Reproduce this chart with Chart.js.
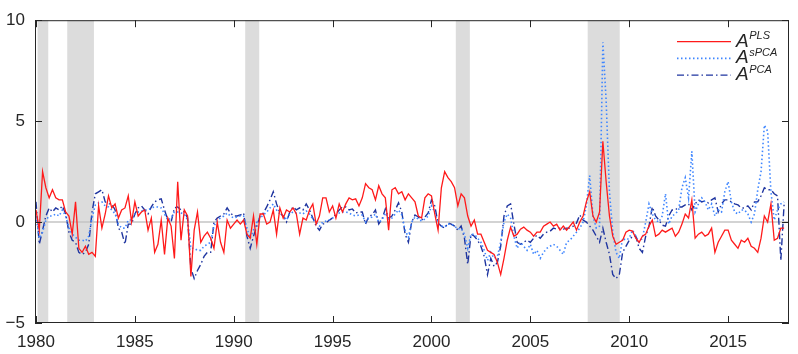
<!DOCTYPE html>
<html lang="en">
<head>
<meta charset="UTF-8">
<title>Aggregate factor comparison</title>
<script src="https://cdn.jsdelivr.net/npm/chart.js"></script>
<style>
  html, body { margin: 0; padding: 0; background: #fff; }
  #wrap { width: 798px; height: 354px; }
</style>
</head>
<body>
<div id="wrap"><canvas id="chart" width="798" height="354"></canvas></div>
<script>
  // one observation every two months, starting Jan 1980
  const startYear = 1980;
  const stepYears = 1 / 6;

  const plsValues = [
    0.6, -0.4, 2.5, 1.7, 1.2, 1.6, 1.2, 1.1, 1.1, 0.5, 0.3, -0.6,
    1.0, -1.3, -1.5, -1.2, -1.6, -1.5, -1.7, 0.8, -0.3, 0.4, 1.3, 0.7,
    0.9, 0.2, 0.6, 0.7, 1.3, 0.0, 1.0, 0.3, 0.5, 0.6, -0.4, 0.2,
    -1.5, -1.1, 0.1, -1.6, 0.2, -0.2, -1.8, 2.0, -0.9, 0.6, 0.3, -2.7,
    -0.4, 0.5, -1.0, -0.7, -0.5, -0.8, -1.3, 0.0, -1.0, -1.5, 0.1, -0.3,
    -0.1, 0.1, -0.1, 0.1, -0.6, -0.8, 0.3, -1.1, 0.4, 0.4, -0.1, 0.0,
    0.6, -0.6, 0.7, 0.2, 0.6, 0.5, 0.7, 0.4, -0.6, 0.2, 0.1, 0.6,
    0.9, -0.1, 0.3, 1.2, 1.2, 0.5, 0.8, 0.2, 0.9, 0.5, 0.9, 1.2,
    1.1, 1.15, 0.8, 1.2, 1.9, 1.7, 1.6, 1.1, 1.8, 1.4, 1.2, -0.4,
    1.6, 1.7, 1.4, 1.5, 1.1, 1.4, 1.2, 1.0, 0.3, 0.2, 1.2, 1.4,
    1.3, 0.4, -0.4, 1.7, 2.5, 2.2, 2.0, 1.7, 0.8, 1.4, 1.2, 0.3,
    -0.2, 0.1, -0.6, -0.6, -1.0, -1.4, -1.5, -1.6, -2.0, -2.6, -1.8, -0.9,
    -0.25, -0.7, -0.6, -0.35, -0.25, -0.4, -0.5, -0.7, -0.5, -0.5, -0.2, -0.1,
    0.0, -0.2, -0.1, -0.4, -0.2, -0.4, -0.2, 0.0, -0.4, 0.0, 0.3, 1.0,
    1.5, 0.3, 0.0, 0.5, 4.0, 2.0, 0.3, -0.7, -1.1, -1.0, -0.9, -0.5,
    -0.4, -0.45, -0.8, -1.0, -0.7, -0.6, -0.2, 0.1, -0.7, -0.6, -0.4, -0.5,
    -0.4, -0.3, -0.7, -0.5, -0.1, 0.4, 0.2, 1.1, -0.8, -0.6, -0.5, -0.7,
    -0.6, -0.3, -1.5, -1.0, -0.7, -0.4, -0.4, -0.9, -1.1, -1.3, -0.9, -1.0,
    -0.8, -1.2, -1.3, -1.5, -0.8, 0.3, 0.0, 0.9, -0.9, -0.8, -0.3, -0.3
  ];

  const spcaValues = [
    0.3, -0.8, -0.5, 0.1, 0.3, 0.3, 0.4, 0.3, 0.6, 0.3, -0.3, -0.6,
    -0.75, -0.9, -0.9, -0.95, -0.7, 0.2, 0.85, 0.95, 1.0, 0.8, 0.75, 0.6,
    0.4, -0.1, -0.3, -0.3, 0.1, 0.1, 0.4, 0.5, 0.55, 0.6, 0.6, 0.7,
    0.75, 0.75, 0.7, 0.4, 0.1, 0.2, 0.5, 0.5, 0.45, 0.4, 0.1, -1.3,
    -1.3, -1.4, -1.4, -1.2, -1.1, -1.0, -0.2, 0.1, 0.2, 0.3, 0.45, 0.3,
    0.2, 0.25, 0.3, 0.3, -0.3, -0.8, -0.4, 0.0, 0.2, 0.35, 0.5, 0.7,
    0.9, 0.6, 0.4, 0.3, 0.1, 0.4, 0.5, 0.45, 0.45, 0.4, 0.55, 0.4,
    0.15, 0.0, -0.2, 0.0, 0.05, 0.1, 0.2, 0.3, 0.45, 0.5, 0.5, 0.45,
    0.35, 0.3, 0.35, 0.35, 0.0, 0.2, 0.25, 0.4, 0.0, 0.1, 0.45, 0.15,
    0.2, 0.4, 0.6, 0.35, -0.4, -0.75, 0.0, 0.25, 0.15, 0.05, 0.15, 0.3,
    0.8, 0.5, -0.1, -0.2, -0.25, -0.1, -0.1, -0.2, -0.35, -0.3, -0.6, -1.3,
    -0.6, -0.6, -0.8, -1.0, -1.4, -1.9, -1.5, -1.8, -1.7, -1.0, 0.0, 0.4,
    0.2, -0.7, -1.3, -1.0, -1.2, -1.4, -1.1, -1.6, -1.4, -1.8, -1.5, -1.3,
    -1.2, -1.1, -1.2, -1.4, -1.6, -1.0, -0.9, -0.7, -0.5, -0.3, 0.0, 0.8,
    2.3, 0.3, -0.3, -0.2, 8.9, 6.0, 1.5, -0.5, -1.5, -1.8, -0.8, -0.9,
    -0.8, -0.4, -0.7, -1.0, -0.8, 0.0, 0.9, 0.4, 0.1, 0.0, 0.3, 1.4,
    -0.1, 0.3, 0.4, 0.6, 1.7, 2.2, 1.2, 3.5, 0.5, 0.9, 1.2, 1.0,
    0.6, 0.9, 0.3, 0.6, 0.5, 1.5, 2.0, 1.0, 0.5, 0.4, 0.6, 0.6,
    0.4, 0.0, 0.4, 1.6, 2.5, 4.8, 4.5, 1.5, 0.1, 0.6, 0.9, 1.0
  ];

  const pcaValues = [
    1.0, -1.1, -0.4, 0.3, 0.7, 0.5, 0.7, 0.6, 0.8, 0.4, -0.5, -0.9,
    -1.0, -1.5, -1.6, -1.5, -1.1, 0.5, 1.4, 1.5, 1.6, 1.0, 0.9, 0.9,
    0.6, -0.3, -0.5, -1.1, -0.1, -0.1, 0.4, 0.7, 0.8, 0.6, 0.4, 0.75,
    1.0, 1.1, 1.15, 0.6, 0.1, 0.0, 0.7, 0.75, 0.6, 0.5, 0.2, -2.3,
    -2.8, -2.4, -2.1, -1.7, -1.5, -1.5, 0.0, 0.2, 0.3, 0.4, 0.7, 0.45,
    0.3, 0.3, 0.35, 0.45, -0.7, -1.3, -0.7, -0.2, 0.3, 0.45, 0.75, 1.1,
    1.5, 0.9, 0.45, 0.3, 0.0, 0.5, 0.75, 0.6, 0.7, 0.6, 0.9, 0.6,
    0.2, -0.2, -0.4, -0.1, -0.05, 0.1, 0.2, 0.4, 0.6, 0.75, 0.75, 0.6,
    0.65, 0.45, 0.5, 0.5, -0.1, 0.3, 0.35, 0.6, -0.1, 0.15, 0.65, 0.2,
    0.3, 0.6, 0.95, 0.5, -0.6, -1.0, 0.0, 0.35, 0.25, 0.1, 0.25, 0.45,
    1.1, 0.8, -0.05, -0.2, -0.3, -0.05, -0.1, -0.2, -0.4, -0.2, -0.8, -2.1,
    -0.6, -0.7, -0.9, -1.2, -1.7, -2.6, -1.8, -2.2, -2.0, -1.2, 0.3, 0.8,
    0.9, -0.1, -1.0, -1.1, -1.0, -0.9, -1.0, -0.8, -0.65, -0.8, -0.6, -0.5,
    -0.45, -0.3, -0.35, -0.3, -0.35, -0.3, -0.3, -0.2, -0.05, 0.35, 0.1, 0.0,
    -0.2, -0.4, -0.7, -1.0, -0.3, -1.0, -1.6, -2.6, -2.8, -2.6, -1.5, -1.2,
    -0.9, -0.7, -0.7, -1.3, -1.5, -0.7, -0.2, 0.75, 0.3, 0.1, -0.15, -0.2,
    0.3, 0.6, 0.6, 0.75, 0.75, 0.85, 0.9, 0.6, 0.9, 1.1, 1.0, 1.05,
    0.95, 1.1, 1.2, 0.5, 0.9, 1.1, 1.1, 1.0, 0.9, 0.85, 0.7, 0.7,
    0.8, 0.6, 1.0, 1.0, 1.3, 1.7, 1.6, 1.6, 1.4, 1.3, -1.9, 0.9
  ];

  // NBER recessions, [start, end] in decimal years
  const recessions = [
    [1980.08, 1980.62], [1981.58, 1982.93], [1990.58, 1991.29],
    [2001.23, 2001.94], [2007.90, 2009.52]
  ];

  const xTicks = [1980, 1985, 1990, 1995, 2000, 2005, 2010, 2015];
  const yTicks = [-5, 0, 5, 10];
  const legendNames = ['PLS', 'sPCA', 'PCA'];

  const fontFamily = '"Liberation Sans", Arial, Helvetica, sans-serif';
  const axisColor = '#262626';

  function toPoints(values) {
    return values.map((v, i) => ({ x: startYear + i * stepYears, y: v }));
  }

  const seriesStyles = [
    { color: '#ff1a1a', width: 1.3, dash: [] },
    { color: '#3f86ff', width: 1.6, dash: [1.5, 2.5] },
    { color: '#1f35a0', width: 1.4, dash: [7, 3, 1.5, 3] }
  ];

  const decorations = {
    id: 'decorations',
    beforeDatasetsDraw(chart) {
      const { ctx, chartArea: a, scales: { x, y } } = chart;
      ctx.save();
      ctx.fillStyle = '#dcdcdc';
      recessions.forEach(([s, e]) => {
        const x0 = x.getPixelForValue(s);
        const x1 = x.getPixelForValue(e);
        ctx.fillRect(x0, a.top, x1 - x0, a.bottom - a.top);
      });
      const y0 = y.getPixelForValue(0);
      ctx.strokeStyle = '#c4c4c4';
      ctx.lineWidth = 1.5;
      ctx.beginPath();
      ctx.moveTo(a.left, y0);
      ctx.lineTo(a.right, y0);
      ctx.stroke();
      ctx.restore();
    },
    afterDatasetsDraw(chart) {
      const { ctx, chartArea: a, scales: { x, y } } = chart;
      ctx.save();
      // box and inward ticks
      ctx.strokeStyle = axisColor;
      ctx.lineWidth = 1;
      ctx.strokeRect(a.left + 0.5, a.top + 0.5, a.right - a.left - 1, a.bottom - a.top - 1);
      const tl = 7;
      ctx.beginPath();
      xTicks.forEach(v => {
        const px = Math.round(x.getPixelForValue(v)) + 0.5;
        ctx.moveTo(px, a.bottom); ctx.lineTo(px, a.bottom - tl);
        ctx.moveTo(px, a.top); ctx.lineTo(px, a.top + tl);
      });
      yTicks.forEach(v => {
        const py = Math.round(y.getPixelForValue(v)) + 0.5;
        ctx.moveTo(a.left, py); ctx.lineTo(a.left + tl, py);
        ctx.moveTo(a.right, py); ctx.lineTo(a.right - tl, py);
      });
      ctx.stroke();

      // legend
      const lx0 = 677, lx1 = 731, ly = 41.7, gap = 16.7;
      legendNames.forEach((name, i) => {
        const st = seriesStyles[i];
        const yy = ly + i * gap;
        ctx.strokeStyle = st.color;
        ctx.lineWidth = st.width;
        ctx.setLineDash(st.dash);
        ctx.beginPath();
        ctx.moveTo(lx0, yy);
        ctx.lineTo(lx1, yy);
        ctx.stroke();
        ctx.setLineDash([]);
        ctx.fillStyle = axisColor;
        ctx.textBaseline = 'alphabetic';
        ctx.textAlign = 'left';
        ctx.font = 'italic 19px ' + fontFamily;
        ctx.fillText('A', 736, yy + 5);
        const w = ctx.measureText('A').width;
        ctx.font = 'italic 11px ' + fontFamily;
        ctx.fillText(name, 736 + w + 0.5, yy - 2.5);
      });
      ctx.restore();
    }
  };

  new Chart(document.getElementById('chart'), {
    type: 'line',
    data: {
      datasets: [plsValues, spcaValues, pcaValues].map((vals, i) => ({
        label: 'A' + legendNames[i],
        data: toPoints(vals),
        borderColor: seriesStyles[i].color,
        borderWidth: seriesStyles[i].width,
        borderDash: seriesStyles[i].dash,
        pointRadius: 0,
        tension: 0,
        fill: false
      }))
    },
    options: {
      responsive: false,
      animation: false,
      devicePixelRatio: 1,
      layout: { padding: { top: 11, right: 9, left: 0, bottom: 0 } },
      plugins: { legend: { display: false }, tooltip: { enabled: false } },
      scales: {
        x: {
          type: 'linear',
          min: 1979.95,
          max: 2018.08,
          grid: { display: false, drawTicks: false },
          border: { display: false },
          ticks: {
            color: axisColor,
            font: { family: fontFamily, size: 17 },
            padding: 9,
            maxRotation: 0,
            callback: v => String(v)
          },
          afterBuildTicks: s => { s.ticks = xTicks.map(v => ({ value: v })); },
          afterFit: s => { s.height = 31; }
        },
        y: {
          min: -5,
          max: 10,
          grid: { display: false, drawTicks: false },
          border: { display: false },
          ticks: {
            color: axisColor,
            font: { family: fontFamily, size: 17 },
            padding: 10,
            callback: v => v < 0 ? '\u2212' + Math.abs(v) : String(v)
          },
          afterBuildTicks: s => { s.ticks = yTicks.map(v => ({ value: v })); },
          afterFit: s => { s.width = 35; }
        }
      }
    },
    plugins: [decorations]
  });
</script>
</body>
</html>
